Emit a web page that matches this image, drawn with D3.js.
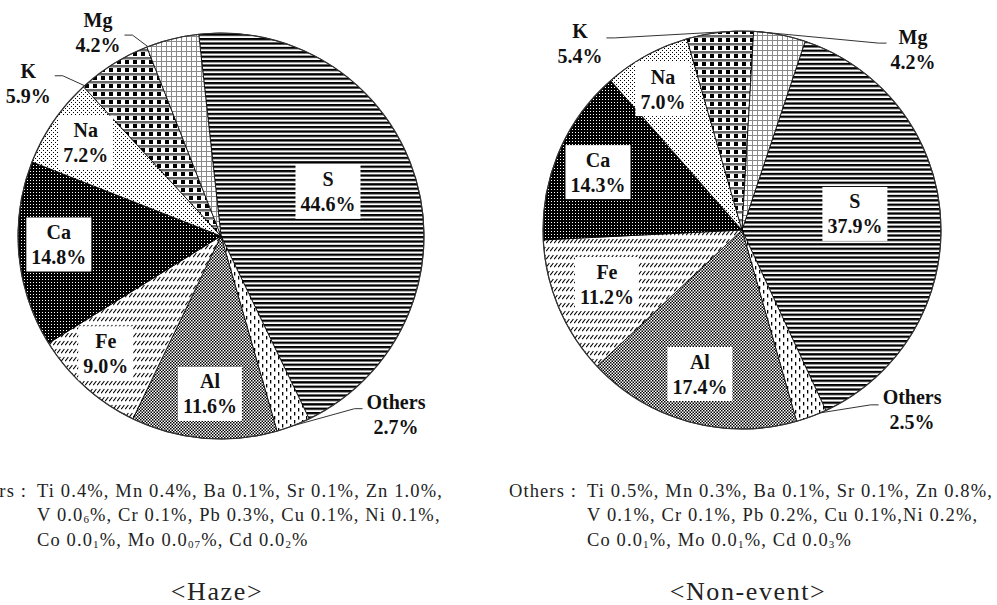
<!DOCTYPE html>
<html><head><meta charset="utf-8">
<script src="https://cdn.jsdelivr.net/npm/d3@7"></script>
<style>body{margin:0;background:#fff}svg{display:block}</style>
</head><body>
<script>
// ---------- data ----------
const categories = ["S","Others","Al","Fe","Ca","Na","K","Mg"];
const hazeValues = [44.6,2.7,11.6,9.0,14.8,7.2,5.9,4.2];
const nonEventValues = [37.9,2.5,17.4,11.2,14.3,7.0,5.4,4.2];
const chartTitles = ["<Haze>","<Non-event>"];
const othersPrefix = "Others :";
const hazeOthersLines = ["Ti 0.4%, Mn 0.4%, Ba 0.1%, Sr 0.1%, Zn 1.0%,","V 0.0_6%, Cr 0.1%, Pb 0.3%, Cu 0.1%, Ni 0.1%,","Co 0.0_1%, Mo 0.0_07%, Cd 0.0_2%"];
const nonEventOthersLines = ["Ti 0.5%, Mn 0.3%, Ba 0.1%, Sr 0.1%, Zn 0.8%,","V 0.1%, Cr 0.1%, Pb 0.2%, Cu 0.1%,Ni 0.2%,","Co 0.0_1%, Mo 0.0_1%, Cd 0.0_3%"];

// ---------- layout ----------
const W=997,H=605;
const pies=[
 {key:"Haze",values:hazeValues,cx:221,cy:236,r:203,start:-6.3,title:chartTitles[0],titleX:217,lines:hazeOthersLines,tiX:37},
 {key:"Non-event",values:nonEventValues,cx:742,cy:230,r:199,start:18.5,title:chartTitles[1],titleX:748,lines:nonEventOthersLines,tiX:587}
];
const labelLayout={
 "Haze":{S:[67.6,0.57],Others:[135.6,1.232],Al:[184,0.78],Fe:[-135.5,0.81],Ca:[-93,0.80],Na:[-55.4,0.81],K:[-51.7,1.21],Mg:[-31.1,1.173]},
 "Non-event":{S:[81.9,0.573],Others:[136.6,1.244],Al:[196.3,0.754],Fe:[-111.8,0.731],Ca:[-68.1,0.78],Na:[-29.3,0.812],K:[-41.05,1.24],Mg:[43.4,1.251]}
};
const leaderLayout={
 "Haze":{Others:{frac:0.5,dy:-6},K:{frac:0.02,dy:-8},Mg:{frac:0.02,dy:3}},
 "Non-event":{Others:{frac:0.18,dy:-5},K:{frac:0.75,dy:-6},Mg:{frac:0.02,dy:-6}}
};
const patternOf={S:"pS",Others:"pOt",Al:"pAl",Fe:"pFe",Ca:"pCa",Na:"pNa",K:"pK",Mg:"pMg"};

const svg=d3.select("body").append("svg").attr("width",W).attr("height",H);
const defs=svg.append("defs");
function pat(id,w,h,bg,draw){
  const p=defs.append("pattern").attr("id",id).attr("patternUnits","userSpaceOnUse").attr("width",w).attr("height",h);
  p.append("rect").attr("width",w).attr("height",h).attr("fill",bg);
  draw(p);
}
pat("pS",8,4.4,"#fff",p=>p.append("rect").attr("width",8).attr("height",2.3).attr("fill","#000"));
pat("pOt",8,8,"#fff",p=>{p.append("rect").attr("x",1).attr("y",0).attr("width",1.3).attr("height",3.5).attr("fill","#000");
  p.append("rect").attr("x",5).attr("y",4).attr("width",1.3).attr("height",3.5).attr("fill","#000");});
pat("pAl",3,3,"#fff",p=>{p.append("rect").attr("width",1.5).attr("height",1.5).attr("fill","#000");
  p.append("rect").attr("x",1.5).attr("y",1.5).attr("width",1.5).attr("height",1.5).attr("fill","#000");});
pat("pFe",4,8,"#fff",p=>p.append("path").attr("d","M0.2,5.2L3.4,1").attr("stroke","#000").attr("stroke-width",1.1));
pat("pCa",3,3,"#000",p=>p.append("rect").attr("x",1).attr("y",1).attr("width",1).attr("height",1).attr("fill","#fff"));
pat("pNa",4,4,"#fff",p=>{p.append("rect").attr("width",1).attr("height",1).attr("fill","#000");
  p.append("rect").attr("x",2).attr("y",2).attr("width",1).attr("height",1).attr("fill","#000");});
pat("pK",8,8,"#fff",p=>{p.append("rect").attr("width",4).attr("height",4).attr("fill","#000");
  p.append("rect").attr("y",5).attr("width",8).attr("height",2.5).attr("fill","#6a6a6a");});
pat("pMg",5,5,"#fff",p=>p.append("path").attr("d","M0,0.5H5M0.5,0V5").attr("stroke","#8a8a8a").attr("stroke-width",1));

const rad=d=>d*Math.PI/180;
const labelFont="'Liberation Serif','DejaVu Serif',serif";

pies.forEach(pc=>{
  const data=categories.map((c,i)=>({cat:c,value:pc.values[i]}));
  const pie=d3.pie().sort(null).value(d=>d.value).startAngle(rad(pc.start)).endAngle(rad(pc.start)+2*Math.PI);
  const arcs=pie(data);
  const arc=d3.arc().innerRadius(0).outerRadius(pc.r);
  const g=svg.append("g").attr("transform",`translate(${pc.cx},${pc.cy})`);
  g.selectAll("path.slice").data(arcs).join("path").attr("class","slice")
    .attr("d",arc).attr("fill",d=>`url(#${patternOf[d.data.cat]})`)
    .attr("stroke","#000").attr("stroke-width",0.8);
  g.append("circle").attr("r",pc.r).attr("fill","none").attr("stroke","#333").attr("stroke-width",1.2);

  const polar=(a,rr)=>[rr*Math.sin(a),-rr*Math.cos(a)];
  arcs.forEach(a=>{
    const cat=a.data.cat;
    const [ang,fr]=labelLayout[pc.key][cat];
    const [lx,ly]=polar(rad(ang),fr*pc.r);
    const lg=g.append("g");
    const t1=lg.append("text").attr("x",lx).attr("y",ly-12.5).text(cat);
    const t2=lg.append("text").attr("x",lx).attr("y",ly+12.5).text(d3.format(".1f")(a.data.value)+"%");
    [t1,t2].forEach(t=>t.attr("text-anchor","middle").attr("dominant-baseline","central")
      .attr("font-family",labelFont).attr("font-weight","bold").attr("font-size",20).attr("fill","#111"));
    const tw=Math.max(t1.node().getComputedTextLength(),t2.node().getComputedTextLength());
    const ld=leaderLayout[pc.key][cat];
    if(!ld){
      lg.insert("rect","text").attr("x",lx-tw/2-5).attr("y",ly-27).attr("width",tw+10).attr("height",54).attr("fill","#fff");
    } else {
      const ea=a.startAngle+ld.frac*(a.endAngle-a.startAngle);
      const [ex,ey]=polar(ea,pc.r);
      const sy=ly+ld.dy;
      let pts;
      if(ex>lx){const sx=lx+tw/2+4; pts=[[sx,sy],[sx+8,sy],[ex,ey]];}
      else {const sx=lx-tw/2-4; pts=[[sx,sy],[sx-8,sy],[ex,ey]];}
      g.append("path").attr("d",d3.line()(pts)).attr("fill","none").attr("stroke","#333").attr("stroke-width",1);
    }
  });

  // Others footnote
  const fs=18.5, ff="'Liberation Serif','DejaVu Serif',serif";
  const baselines=[497,521,546];
  const lineNodes=pc.lines.map((ln,i)=>{
    const t=svg.append("text").attr("x",pc.tiX).attr("y",baselines[i]).attr("font-family",ff).attr("font-size",fs).attr("fill","#222");
    const parts=ln.split(/_(\d+)/);
    parts.forEach((p,k)=>{
      if(k%2===1){ t.append("tspan").attr("font-size",11).attr("dy",2).text(p); }
      else if(p){ const s=t.append("tspan").text(p); if(k>0) s.attr("dy",-2); }
    });
    return t;
  });
  const nat=lineNodes[0].node().getComputedTextLength();
  const n0=pc.lines[0].length;
  const ls=(406-nat)/n0;
  lineNodes.forEach(t=>t.attr("letter-spacing",ls));
  svg.append("text").attr("x",pc.tiX-10).attr("y",baselines[0]).attr("text-anchor","end")
    .attr("font-family",ff).attr("font-size",fs).attr("fill","#222").attr("letter-spacing",ls).text(othersPrefix);

  svg.append("text").attr("x",pc.titleX).attr("y",600).attr("text-anchor","middle")
    .attr("font-family",ff).attr("font-size",26).attr("letter-spacing",1.6).attr("fill","#222").text(pc.title);
});
</script>
</body></html>
